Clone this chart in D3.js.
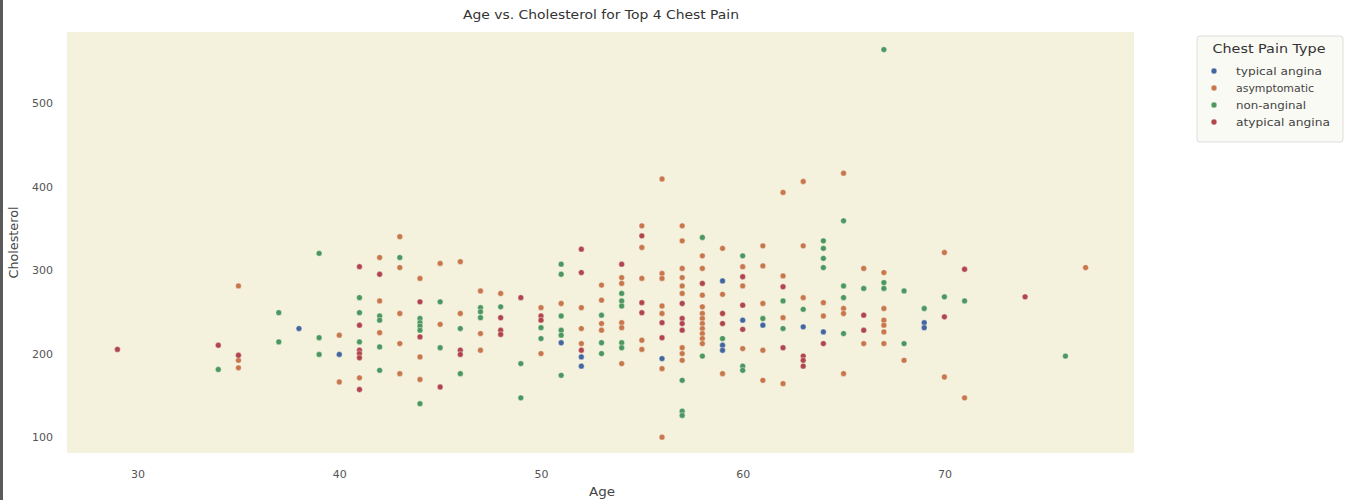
<!DOCTYPE html>
<html>
<head>
<meta charset="utf-8">
<script src="https://cdn.jsdelivr.net/npm/d3@7"></script>
<style>
  body { margin: 0; background: #fff; }
  text { font-family: "DejaVu Sans", sans-serif; }
</style>
</head>
<body>
<svg width="1351" height="500"></svg>
<script>
// [age, cholesterol] per chest pain type
var typicalAngina = [
  [38,230],[40,199],[51,213],[52,196],[52,185],[56,194],[59,287],[59,210],[59,204],
  [60,240],[61,234],[63,232],[64,226],[69,237],[69,231]
];
var asymptomatic = [
  [35,281],[35,192],[35,183],[40,222],[40,166],[41,171],[42,315],[42,263],[42,225],
  [43,340],[43,303],[43,248],[43,212],[43,176],[44,290],[44,196],[44,169],[45,308],
  [45,235],[46,310],[46,248],[47,275],[47,224],[47,204],[48,272],[50,255],[50,200],
  [51,260],[52,255],[52,230],[52,212],[53,282],[53,264],[53,236],[53,228],[54,291],
  [54,284],[54,237],[54,231],[54,188],[55,353],[55,327],[55,290],[55,216],[55,205],
  [56,409],[56,296],[56,290],[56,257],[56,248],[56,182],[56,100],[57,353],[57,335],
  [57,302],[57,291],[57,281],[57,272],[57,207],[57,200],[57,192],[58,317],[58,302],
  [58,270],[58,256],[58,248],[58,242],[58,236],[58,230],[58,224],[58,218],[58,212],
  [59,326],[59,271],[59,176],[60,304],[60,281],[60,206],[61,329],[61,305],[61,260],
  [61,204],[61,168],[62,393],[62,293],[62,243],[62,164],[63,406],[63,329],[63,267],
  [64,261],[64,245],[65,416],[65,254],[65,248],[65,176],[66,302],[66,212],[67,297],
  [67,254],[67,240],[67,234],[67,226],[67,212],[68,192],[70,321],[70,172],[71,147],
  [77,303]
];
var nonAnginal = [
  [34,181],[37,249],[37,214],[39,320],[39,219],[39,199],[41,267],[41,249],[41,214],
  [42,245],[42,240],[42,208],[42,180],[43,315],[44,242],[44,237],[44,233],[44,228],
  [44,140],[45,262],[45,207],[46,230],[46,176],[47,255],[47,250],[47,243],[48,256],
  [49,188],[49,147],[50,231],[50,218],[51,307],[51,295],[51,245],[51,228],[51,222],
  [51,174],[53,246],[53,213],[53,200],[54,272],[54,263],[54,257],[54,213],[54,207],
  [57,168],[57,131],[57,126],[58,339],[58,197],[59,218],[60,317],[60,185],[60,180],
  [61,242],[62,263],[62,230],[63,253],[64,335],[64,326],[64,314],[64,303],[65,359],
  [65,281],[65,267],[65,224],[66,278],[67,285],[67,278],[67,564],[68,275],[68,212],
  [69,254],[70,268],[71,263],[76,197]
];
var atypicalAngina = [
  [29,205],[34,210],[35,198],[41,304],[41,234],[41,204],[41,200],[41,195],[41,157],
  [42,295],[44,262],[44,220],[45,160],[46,204],[46,199],[48,243],[48,228],[48,223],
  [49,267],[50,245],[50,240],[52,325],[52,297],[52,204],[54,307],[55,341],[55,261],
  [55,249],[56,237],[56,219],[57,260],[57,242],[57,236],[57,228],[58,284],[59,248],
  [59,236],[60,292],[60,258],[60,229],[62,280],[62,207],[63,197],[63,192],[63,185],
  [64,212],[66,246],[66,228],[70,244],[71,301],[74,268]
];

var painTypes = ["typical angina", "asymptomatic", "non-anginal", "atypical angina"];
var painData = [typicalAngina, asymptomatic, nonAnginal, atypicalAngina];
var xTicks = [30, 40, 50, 60, 70];
var yTicks = [100, 200, 300, 400, 500];

var palette = ["#4c72b0", "#dd8452", "#55a868", "#c44e52"];

var svg = d3.select("svg"),
    width = +svg.attr("width"),
    height = +svg.attr("height");

var plot = {left: 67, top: 32, right: 1134, bottom: 453};

var x = d3.scaleLinear().domain([26.5, 79.4]).range([plot.left, plot.right]);
var y = d3.scaleLinear().domain([81, 585]).range([plot.bottom, plot.top]);
var color = d3.scaleOrdinal().domain(painTypes).range(palette.map(function (c) {
    return d3.color(c).darker(0.3).formatHex();
}));

// dark strip on the left edge of the screenshot
svg.append("rect").attr("x", 0).attr("y", 0).attr("width", 3).attr("height", height)
    .attr("fill", "#5a5a5a");

svg.append("rect")
    .attr("x", plot.left).attr("y", plot.top)
    .attr("width", plot.right - plot.left).attr("height", plot.bottom - plot.top)
    .attr("fill", "#f4f2dc");

var xAxis = svg.append("g")
    .attr("transform", "translate(0," + plot.bottom + ")")
    .call(d3.axisBottom(x).tickValues(xTicks).tickSize(0).tickPadding(17));
var yAxis = svg.append("g")
    .attr("transform", "translate(" + plot.left + ",0)")
    .call(d3.axisLeft(y).tickValues(yTicks).tickSize(0).tickPadding(14));

[xAxis, yAxis].forEach(function (a) {
    a.select(".domain").remove();
    a.selectAll("text").attr("fill", "#555").style("font-size", "11px")
        .style("font-family", "DejaVu Sans, sans-serif");
});

// points, drawn per type in legend order
painTypes.forEach(function (t, i) {
    svg.append("g")
        .selectAll("circle")
        .data(painData[i])
        .enter().append("circle")
        .attr("cx", function (d) { return x(d[0]); })
        .attr("cy", function (d) { return y(d[1]); })
        .attr("r", 2.9)
        .attr("fill", color(t))
        .attr("stroke", "#fff")
        .attr("stroke-width", 0.4);
});

svg.append("text")
    .attr("x", 601).attr("y", 19)
    .attr("text-anchor", "middle").attr("fill", "#333")
    .attr("textLength", 276).attr("lengthAdjust", "spacingAndGlyphs")
    .style("font-size", "12px")
    .text("Age vs. Cholesterol for Top 4 Chest Pain");

svg.append("text")
    .attr("x", 602).attr("y", 496)
    .attr("text-anchor", "middle").attr("fill", "#444")
    .attr("textLength", 26).attr("lengthAdjust", "spacingAndGlyphs")
    .style("font-size", "12px")
    .text("Age");

svg.append("text")
    .attr("transform", "translate(18," + (plot.top + plot.bottom) / 2 + ") rotate(-90)")
    .attr("text-anchor", "middle").attr("fill", "#444")
    .attr("textLength", 72).attr("lengthAdjust", "spacingAndGlyphs")
    .style("font-size", "12px")
    .text("Cholesterol");

// legend
var legend = svg.append("g").attr("transform", "translate(1197,36)");
legend.append("rect")
    .attr("width", 146).attr("height", 106)
    .attr("rx", 3)
    .attr("fill", "#fafaf4").attr("stroke", "#ddd");
legend.append("text")
    .attr("x", 72).attr("y", 17)
    .attr("text-anchor", "middle").attr("fill", "#333")
    .attr("textLength", 113).attr("lengthAdjust", "spacingAndGlyphs")
    .style("font-size", "12px")
    .text("Chest Pain Type");

var itemWidths = [86, 78, 70, 94];
var item = legend.selectAll("g.item")
    .data(painTypes)
    .enter().append("g")
    .attr("class", "item")
    .attr("transform", function (d, i) { return "translate(0," + (35 + i * 17) + ")"; });
item.append("circle")
    .attr("cx", 17).attr("cy", 0).attr("r", 2.9)
    .attr("fill", function (d) { return color(d); })
    .attr("stroke", "#fff").attr("stroke-width", 0.4);
item.append("text")
    .attr("x", 39).attr("y", 3.5)
    .attr("fill", "#444")
    .attr("textLength", function (d, i) { return itemWidths[i]; })
    .attr("lengthAdjust", "spacingAndGlyphs")
    .style("font-size", "10px")
    .text(function (d) { return d; });
</script>
</body>
</html>
